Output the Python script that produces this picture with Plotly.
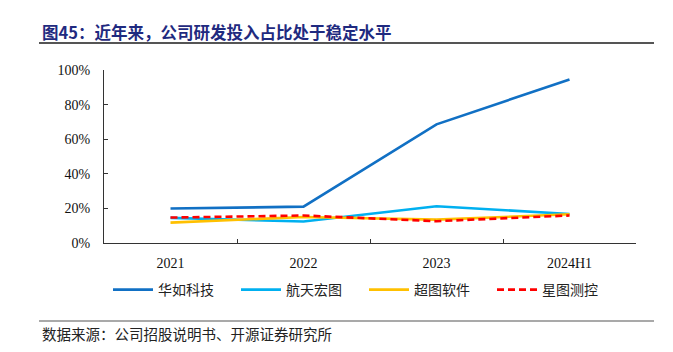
import plotly.graph_objects as go

categories = ["2021", "2022", "2023", "2024H1"]
series_names = ["华如科技", "航天宏图", "超图软件", "星图测控"]
huaru = [0.199, 0.210, 0.686, 0.945]
hangtian = [0.145, 0.124, 0.212, 0.168]
chaotu = [0.118, 0.150, 0.135, 0.166]
xingtu = [0.147, 0.159, 0.126, 0.159]
colors = ["#1170C4", "#00B0F0", "#FFC000", "#FF0000"]
dashes = ["solid", "solid", "solid", "7px,4px"]

W, H = 673, 352
L, R, T, B = 104, 636, 70, 243
pw, ph = R - L, B - T

def px(x):
    return (x - L) / pw

def py(y):
    return (B - y) / ph

SERIF = "Liberation Serif, Times New Roman, serif"
CJK = "Noto Sans CJK SC"

fig = go.Figure()
for name, vals, c, d in zip(series_names, [huaru, hangtian, chaotu, xingtu], colors, dashes):
    fig.add_trace(go.Scatter(x=categories, y=vals, mode="lines", name=name,
                             line=dict(color=c, width=2.6, dash=d)))

fig.update_layout(
    width=W, height=H,
    margin=dict(l=L, r=W - R, t=T, b=H - B),
    paper_bgcolor="white", plot_bgcolor="white",
    showlegend=True,
    legend=dict(orientation="h", x=px(108), xanchor="left", y=py(290), yanchor="middle",
                font=dict(family=CJK, size=14, color="#222"),
                entrywidth=73, entrywidthmode="pixels", itemwidth=40, tracegroupgap=0),
    xaxis=dict(type="category", range=[-0.5, 3.5], showline=True, linecolor="#333", linewidth=1,
               ticks="inside", ticklen=4, tickcolor="#333", tickson="boundaries",
               ticklabelstandoff=7,
               tickfont=dict(family=SERIF, size=14, color="#111"),
               showgrid=False, zeroline=False),
    yaxis=dict(range=[0, 1], dtick=0.2, tickformat=".0%", showline=True, linecolor="#333", linewidth=1,
               ticks="inside", ticklen=4, tickcolor="#333", ticklabelstandoff=10,
               tickfont=dict(family=SERIF, size=14, color="#111"),
               showgrid=False, zeroline=False),
)

fig.add_annotation(xref="paper", yref="paper", x=px(40), y=py(32), xanchor="left", yanchor="middle",
                   text="<b>图45：近年来，公司研发投入占比处于稳定水平</b>", showarrow=False,
                   font=dict(family=CJK, size=16.5, color="#1F2A80"))
fig.add_annotation(xref="paper", yref="paper", x=px(40), y=py(333), xanchor="left", yanchor="middle",
                   text="数据来源：公司招股说明书、开源证券研究所", showarrow=False,
                   font=dict(family=CJK, size=14.5, color="#222"))

fig.add_shape(type="line", xref="paper", yref="paper", x0=px(39), x1=px(654), y0=py(43), y1=py(43),
              line=dict(color="#555", width=2))
fig.add_shape(type="line", xref="paper", yref="paper", x0=px(39), x1=px(654), y0=py(321), y1=py(321),
              line=dict(color="#555", width=1.2))

fig.write_html("out.html")
